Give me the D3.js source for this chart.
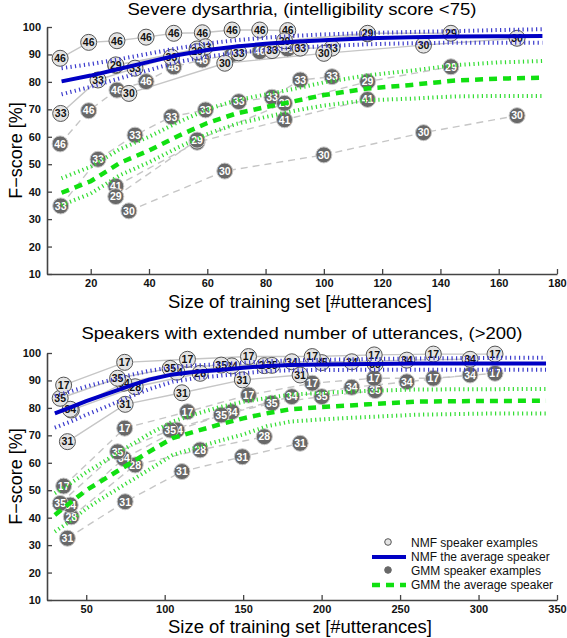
<!DOCTYPE html>
<html><head><meta charset="utf-8">
<script src="https://cdn.jsdelivr.net/npm/d3@7"></script>
<style>
body{margin:0;background:#fff;}
text{font-family:Arial,"Liberation Sans",Helvetica,sans-serif;}
</style></head>
<body><svg id="c" width="567" height="638"></svg>
<script>
// ---------------- DATA: top panel (severe dysarthria) ----------------
const topTicksX = [20, 40, 60, 80, 100, 120, 140, 160, 180];
const ticksY = [10, 20, 30, 40, 50, 60, 70, 80, 90, 100];

const t46_x   = [9.5, 19.3, 29, 39, 48.5, 58.3, 68.5, 78, 87.6];
const t46_nmf = [88.6, 94.4, 95, 96.3, 97.7, 97.9, 98.9, 98.9, 98.7];
const t46_gmm = [57.4, 69.5, 77, 80.1, 85.5, 88, 90, 91, 92];

const t33_x   = [9.7, 22.5, 35.2, 47.7, 59.4, 70.8, 82.2, 91.9, 102.8];
const t33_nmf = [68.5, 80.7, 85, 89, 92.8, 90.6, 91.4, 92.3, 92.3];
const t33_gmm = [34.8, 51.8, 60.6, 67.3, 69.8, 72.8, 74.4, 80.7, 81.9];

const t30_x   = [33.1, 66, 100, 134.2, 166.3];
const t30_nmf = [75.8, 86.8, 90.4, 93.4, 95.9];
const t30_gmm = [33, 47.5, 53.4, 61.5, 67.7];

const t29_x   = [28.6, 56.5, 86.5, 115, 143.6];
const t29_nmf = [86.2, 91, 95, 97.7, 97.7];
const t29_gmm = [38.2, 58.8, 72.2, 80.1, 85.5];

const t41_x   = [28.6, 56.5, 86.5, 115];
const t41_nmf = [86, 92, 93.5, 97.5];
const t41_gmm = [42, 58, 66.2, 73.6];

const topAvgX   = [10, 20, 30, 40, 50, 60, 70, 80, 90, 100, 115, 130, 145, 160, 175];
const topNmfAvg = [80.2, 82.3, 84.8, 87.3, 89.8, 91.6, 92.9, 93.9, 94.6, 95.2, 95.9, 96.3, 96.5, 96.6, 96.7];
const topNmfUp  = [85, 86.5, 88.3, 90.3, 92.3, 94, 95.2, 96.1, 96.8, 97.3, 97.8, 98.2, 98.5, 98.9, 99.2];
const topNmfLo  = [75.5, 78.2, 81.3, 84.3, 87.3, 89.2, 90.6, 91.7, 92.4, 93, 93.7, 94.1, 94.3, 94.3, 94.3];
const topGmmAvg = [39.6, 43.8, 50.5, 55, 60.3, 65, 68.5, 70.8, 73, 75.2, 77.6, 78.9, 80.5, 81.2, 81.5];
const topGmmUp  = [44.9, 49.1, 55.5, 60, 65.3, 70, 73.3, 75.4, 77.5, 79.8, 82.4, 84.1, 86.1, 87.1, 87.6];
const topGmmLo  = [35.1, 39.3, 46, 50.7, 56.1, 61, 64.7, 67.2, 69.5, 71.4, 73.3, 73.9, 74.7, 74.9, 74.9];

// ---------------- DATA: bottom panel (extended utterances) ----------------
const botTicksX = [50, 100, 150, 200, 250, 300, 350];

const b17_x   = [35.6, 74.5, 114.5, 153.4, 194, 233.5, 271.2, 310.5];
const b17_nmf = [88.3, 96.6, 97.7, 98.7, 98.7, 99.3, 99.6, 99.6];
const b17_gmm = [51.5, 72.6, 78.6, 84.7, 89, 90.8, 90.8, 92.6];

const b35_x   = [33.4, 70, 103.5, 136, 168.3, 200.1, 234.1];
const b35_nmf = [83.5, 90.8, 94.4, 95.6, 95.5, 96.5, 96];
const b35_gmm = [45.2, 64, 71.9, 77.4, 81.7, 84.1, 86.3];

const b28_x   = [40.5, 81.2, 122.6, 163.5];
const b28_nmf = [79.2, 87.7, 92.6, 95.4];
const b28_gmm = [40.3, 59.2, 64.7, 69.5];

const b31_x   = [38, 74.8, 111, 149.5, 186.3];
const b31_nmf = [67.7, 81.3, 85.5, 90.2, 92];
const b31_gmm = [32.5, 45.8, 56.8, 62.2, 67.1];

const b34_x   = [39.8, 74, 107.8, 142.8, 181, 219.2, 254.3, 294.6];
const b34_nmf = [79.5, 89, 93, 95.3, 96.8, 96.8, 97.4, 97.7];
const b34_gmm = [44.6, 61.5, 71.9, 78.6, 84.1, 87.5, 89.5, 92];

const botAvgX   = [30, 40, 50, 60, 70, 80, 90, 105, 120, 135, 150, 165, 180, 200, 230, 260, 300, 343];
const botNmfAvg = [78, 80.2, 82.5, 84.5, 86.5, 88.5, 90.3, 92.2, 93.2, 93.8, 94.6, 95.3, 95.6, 95.8, 96, 96.2, 96.2, 96.2];
const botNmfUp  = [84.3, 86, 87.8, 89.3, 90.8, 92.2, 93.5, 94.8, 95.5, 95.9, 96.5, 97, 97.3, 97.5, 97.8, 98, 98.2, 98.3];
const botNmfLo  = [72.8, 75, 77.5, 79.8, 82.2, 84.6, 86.8, 89.5, 90.9, 91.7, 92.6, 93.4, 93.7, 93.8, 93.9, 93.9, 93.9, 93.9];
const botGmmAvg = [41, 45.5, 50, 53.5, 57, 60.5, 64, 69, 71.5, 74, 76.2, 78, 79.5, 80.3, 81.3, 82.3, 82.5, 82.6];
const botGmmUp  = [48.9, 52.5, 56.5, 60, 63.5, 67, 70.5, 75, 77.8, 80.3, 82.2, 83.6, 84.8, 85.5, 86.2, 86.7, 86.8, 86.9];
const botGmmLo  = [34.9, 38.8, 43.3, 47, 50.5, 54, 57.5, 62.8, 65.5, 68, 70.3, 73.3, 75, 75.8, 76.7, 77.5, 77.9, 78];

const legendLabels = ["NMF speaker examples", "NMF the average speaker", "GMM speaker examples", "GMM the average speaker"];

// ---------------- DRAWING ----------------
const svg = d3.select("#c");
const C = {
  light: "#e4e4e4", lightStroke: "#555", dark: "#686868", darkStroke: "#c8c8c8",
  conn: "#c6c6c6", blue: "#0000c4", blueBand: "#3a3acc", green: "#11e011", greenBand: "#33dd33", axis: "#444"
};

function panel(cfg) {
  const {x, y, ticksX, speakers, avgX, nmfAvg, nmfUp, nmfLo, gmmAvg, gmmUp, gmmLo, title, titleY, titleW, xlabY} = cfg;
  const g = svg.append("g");

  const ax = g.append("g").attr("transform", `translate(0,${y.range()[0]})`)
    .call(d3.axisBottom(x).tickValues(ticksX).tickSizeInner(-5).tickSizeOuter(0).tickPadding(5));
  const ay = g.append("g").attr("transform", `translate(${x.range()[0]},0)`)
    .call(d3.axisLeft(y).tickValues(ticksY).tickSizeInner(-5).tickSizeOuter(0).tickPadding(6));
  [ax, ay].forEach(a => {
    a.select(".domain").attr("stroke", C.axis).attr("stroke-width", 1.6);
    a.selectAll(".tick line").attr("stroke", C.axis).attr("stroke-width", 1.3);
    a.selectAll(".tick text").attr("font-size", 11).attr("font-weight", "bold").attr("fill", "#111")
      .attr("font-family", "Arial, 'Liberation Sans', sans-serif");
  });

  const line = d3.line().x(d => x(d[0])).y(d => y(d[1]));

  speakers.forEach(s => {
    g.append("path").datum(d3.zip(s.x, s.nmf)).attr("d", line)
      .attr("fill", "none").attr("stroke", C.conn).attr("stroke-width", 1.4);
    g.append("path").datum(d3.zip(s.x, s.gmm)).attr("d", line)
      .attr("fill", "none").attr("stroke", C.conn).attr("stroke-width", 1.4).attr("stroke-dasharray", "7,5");
  });

  function markers(pts, fill, stroke, txt) {
    const m = g.append("g").selectAll("g").data(pts).join("g")
      .attr("transform", d => `translate(${x(d.x)},${y(d.y)})`);
    m.append("circle").attr("r", 8).attr("fill", fill).attr("stroke", stroke).attr("stroke-width", 1);
    m.append("text").text(d => d.id).attr("text-anchor", "middle").attr("dy", "0.36em")
      .attr("font-size", 10.5).attr("font-weight", "bold").attr("fill", txt);
  }
  const gPts = [], nPts = [];
  speakers.forEach(s => s.x.forEach((v, i) => {
    gPts.push({x: v, y: s.gmm[i], id: s.id});
    nPts.push({x: v, y: s.nmf[i], id: s.id});
  }));
  markers(gPts, C.dark, C.darkStroke, "#fff");
  markers(nPts, C.light, C.lightStroke, "#111");

  const band = (arr, col) => g.append("path").datum(d3.zip(avgX, arr)).attr("d", line)
    .attr("fill", "none").attr("stroke", col).attr("stroke-width", 4).attr("stroke-dasharray", "1.2,3.3");
  band(nmfUp, C.blueBand); band(nmfLo, C.blueBand);
  g.append("path").datum(d3.zip(avgX, nmfAvg)).attr("d", line)
    .attr("fill", "none").attr("stroke", C.blue).attr("stroke-width", 4);
  band(gmmUp, C.greenBand); band(gmmLo, C.greenBand);
  g.append("path").datum(d3.zip(avgX, gmmAvg)).attr("d", line)
    .attr("fill", "none").attr("stroke", C.green).attr("stroke-width", 4.5).attr("stroke-dasharray", "8,6");

  const cx = (x.range()[0] + x.range()[1]) / 2;
  g.append("text").attr("x", cx).attr("y", titleY).attr("text-anchor", "middle")
    .attr("font-size", 17).attr("fill", "#000")
    .attr("textLength", titleW).attr("lengthAdjust", "spacingAndGlyphs").text(title);
  g.append("text").attr("x", cx - 2).attr("y", xlabY).attr("text-anchor", "middle")
    .attr("font-size", 17.5).attr("fill", "#000")
    .attr("textLength", 264).attr("lengthAdjust", "spacingAndGlyphs").text("Size of training set [#utterances]");
  const cy = (y.range()[0] + y.range()[1]) / 2;
  g.append("text").attr("transform", `translate(22,${cy}) rotate(-90)`).attr("text-anchor", "middle")
    .attr("font-size", 18).attr("fill", "#000").text("F\u2212score [%]");
}

const xTop = d3.scaleLinear().domain([5, 180]).range([47, 557]);
const yTop = d3.scaleLinear().domain([10, 100]).range([274, 27]);
const xBot = d3.scaleLinear().domain([25, 350]).range([47, 557]);
const yBot = d3.scaleLinear().domain([10, 100]).range([600, 353]);

panel({
  x: xTop, y: yTop, ticksX: topTicksX,
  speakers: [
    {id: 46, x: t46_x, nmf: t46_nmf, gmm: t46_gmm},
    {id: 33, x: t33_x, nmf: t33_nmf, gmm: t33_gmm},
    {id: 41, x: t41_x, nmf: t41_nmf, gmm: t41_gmm},
    {id: 29, x: t29_x, nmf: t29_nmf, gmm: t29_gmm},
    {id: 30, x: t30_x, nmf: t30_nmf, gmm: t30_gmm}
  ],
  avgX: topAvgX, nmfAvg: topNmfAvg, nmfUp: topNmfUp, nmfLo: topNmfLo,
  gmmAvg: topGmmAvg, gmmUp: topGmmUp, gmmLo: topGmmLo,
  title: "Severe dysarthria, (intelligibility score <75)", titleY: 15, titleW: 349, xlabY: 308
});

panel({
  x: xBot, y: yBot, ticksX: botTicksX,
  speakers: [
    {id: 28, x: b28_x, nmf: b28_nmf, gmm: b28_gmm},
    {id: 31, x: b31_x, nmf: b31_nmf, gmm: b31_gmm},
    {id: 34, x: b34_x, nmf: b34_nmf, gmm: b34_gmm},
    {id: 35, x: b35_x, nmf: b35_nmf, gmm: b35_gmm},
    {id: 17, x: b17_x, nmf: b17_nmf, gmm: b17_gmm}
  ],
  avgX: botAvgX, nmfAvg: botNmfAvg, nmfUp: botNmfUp, nmfLo: botNmfLo,
  gmmAvg: botGmmAvg, gmmUp: botGmmUp, gmmLo: botGmmLo,
  title: "Speakers with extended number of utterances, (>200)", titleY: 339, titleW: 441, xlabY: 633
});

const lg = svg.append("g").attr("font-size", 12);
const ly = [545, 559, 573, 587];
lg.append("circle").attr("cx", 388).attr("cy", ly[0] - 3).attr("r", 3.3).attr("fill", C.light).attr("stroke", C.lightStroke);
lg.append("line").attr("x1", 372).attr("x2", 406).attr("y1", ly[1] - 2).attr("y2", ly[1] - 2).attr("stroke", C.blue).attr("stroke-width", 4);
lg.append("circle").attr("cx", 388).attr("cy", ly[2] - 3).attr("r", 3.3).attr("fill", C.dark).attr("stroke", C.dark);
lg.append("line").attr("x1", 372).attr("x2", 406).attr("y1", ly[3] - 2).attr("y2", ly[3] - 2).attr("stroke", C.green).attr("stroke-width", 4.5).attr("stroke-dasharray", "8,6");
lg.selectAll("text.l").data(legendLabels).join("text").attr("class", "l")
  .attr("x", 411).attr("y", (d, i) => ly[i] + 2).attr("fill", "#111").text(d => d);
</script></body></html>
